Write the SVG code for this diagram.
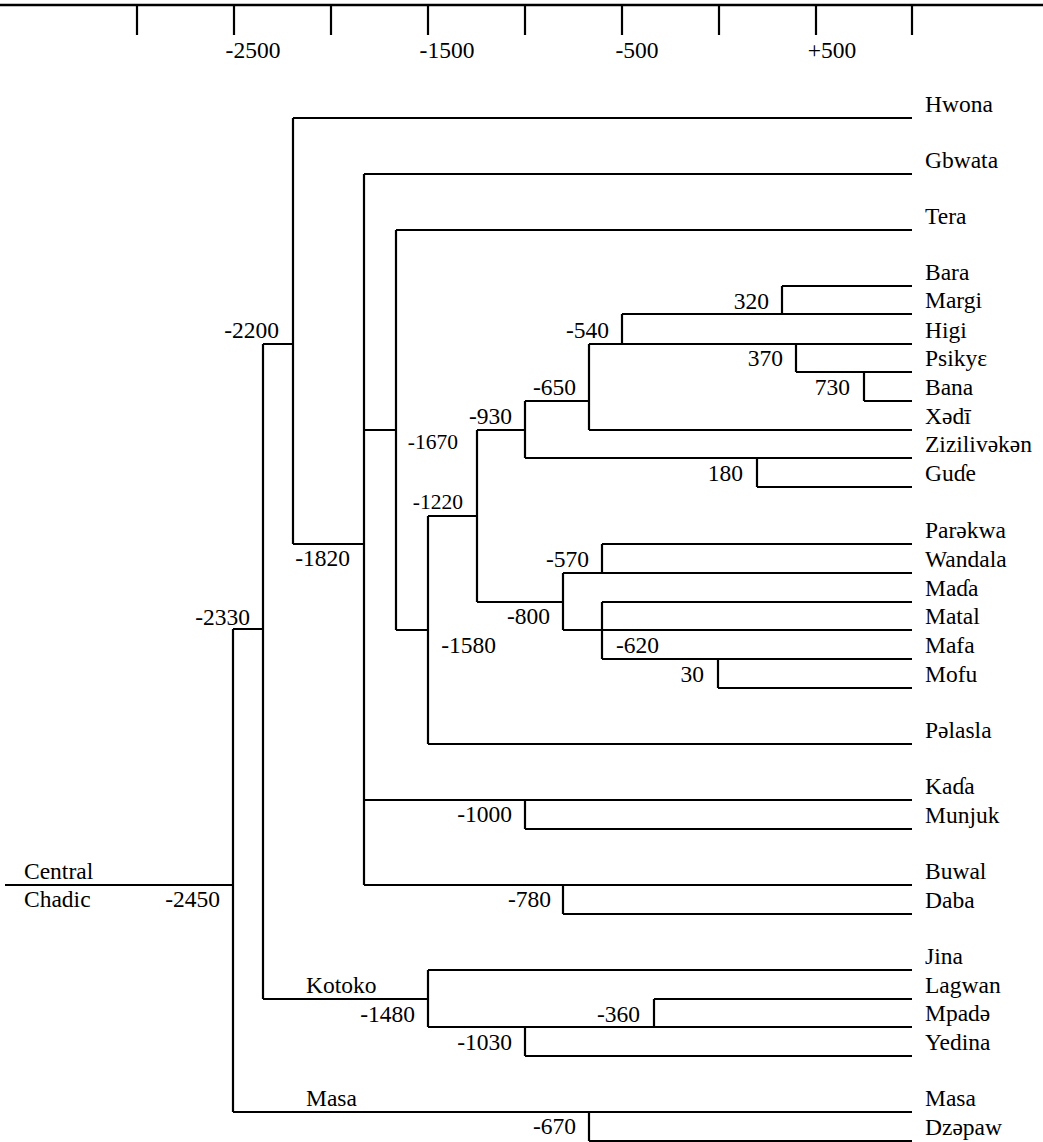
<svg xmlns="http://www.w3.org/2000/svg" width="1043" height="1142" viewBox="0 0 1043 1142">
<style>
text{font-family:"Liberation Serif",serif;font-size:23.5px;fill:#000}
.n{text-anchor:end}
.s{font-size:21.5px}
line,path{stroke:#000;stroke-width:2.2;fill:none}
.ax{stroke-width:2.6}
</style>
<rect width="1043" height="1142" fill="#fff"/>
<g id="axis">
<line class="ax" x1="0" y1="5" x2="1043" y2="5"/>
<line x1="137" y1="5" x2="137" y2="35"/>
<line x1="234" y1="5" x2="234" y2="35"/>
<line x1="331" y1="5" x2="331" y2="35"/>
<line x1="428" y1="5" x2="428" y2="35"/>
<line x1="525" y1="5" x2="525" y2="35"/>
<line x1="622" y1="5" x2="622" y2="35"/>
<line x1="719" y1="5" x2="719" y2="35"/>
<line x1="816" y1="5" x2="816" y2="35"/>
<line x1="912" y1="5" x2="912" y2="35"/>
<text x="253" y="58" text-anchor="middle">-2500</text>
<text x="447" y="58" text-anchor="middle">-1500</text>
<text x="637" y="58" text-anchor="middle">-500</text>
<text x="832" y="58" text-anchor="middle">+500</text>
</g>
<g id="connectors">
<path d="M5 885H233M233 629V1112M233 629H263M263 344V999M263 344H293M293 118V544M293 544H364M364 174V885M364 430H396M396 230V630M396 630H428M428 516V744M428 516H477M477 430V602M477 430H525M525 401V458M525 401H589M589 344V430M589 344H912M622 314V344M622 314H912M782 286V314M782 286H912M796 344V372M796 372H912M864 372V401M864 401H912M589 430H912M525 458H912M757 458V487M757 487H912M477 602H563M563 573V630M563 573H912M563 630H912M602 544V573M602 544H912M602 602V659M602 602H912M602 659H912M718 659V688M718 688H912M428 744H912"/>
<path d="M293 118H912M364 174H912M396 230H912M364 800H912M525 800V829M525 829H912M364 885H912M563 885V914M563 914H912M263 999H428M428 970V1027M428 970H912M428 1027H912M654 999V1027M654 999H912M525 1027V1056M525 1056H912M233 1112H912M589 1112V1141M589 1141H912"/>
</g>
<g id="root"><text x="24" y="879">Central</text><text x="24" y="907">Chadic</text><text class="n" x="220" y="907">-2450</text></g>
<g id="n2330"><text class="n" x="250" y="625">-2330</text></g>
<g id="n2200"><text class="n" x="279" y="338">-2200</text></g>
<g id="n1820"><text class="n" x="350" y="566">-1820</text></g>
<g id="n1670"><text class="n s" x="458" y="449">-1670</text></g>
<g id="n1580"><text class="n" x="496" y="653">-1580</text></g>
<g id="n1220"><text class="n s" x="463" y="509">-1220</text></g>
<g id="n930"><text class="n" x="512" y="424">-930</text></g>
<g id="n650"><text class="n" x="576" y="395">-650</text></g>
<g id="n540"><text class="n" x="609" y="338">-540</text></g>
<g id="n320"><text class="n" x="769" y="309">320</text></g>
<g id="n370"><text class="n" x="783" y="366">370</text></g>
<g id="n730"><text class="n" x="850" y="395">730</text></g>
<g id="n180"><text class="n" x="743" y="481">180</text></g>
<g id="n800"><text class="n" x="550" y="624">-800</text></g>
<g id="n570"><text class="n" x="589" y="567">-570</text></g>
<g id="n620"><text class="n" x="659" y="653">-620</text></g>
<g id="n30"><text class="n" x="704" y="682">30</text></g>
<g id="n1000"><text class="n" x="512" y="822">-1000</text></g>
<g id="n780"><text class="n" x="551" y="907">-780</text></g>
<g id="kotoko"><text x="306" y="993">Kotoko</text><text class="n" x="415" y="1022">-1480</text></g>
<g id="n360"><text class="n" x="640" y="1022">-360</text></g>
<g id="n1030"><text class="n" x="512" y="1050">-1030</text></g>
<g id="masa"><text x="306" y="1106">Masa</text></g>
<g id="n670"><text class="n" x="576" y="1134">-670</text></g>
<g id="leaves">
<text x="925" y="112">Hwona</text>
<text x="925" y="168">Gbwata</text>
<text x="925" y="224">Tera</text>
<text x="925" y="280">Bara</text>
<text x="925" y="308">Margi</text>
<text x="925" y="338">Higi</text>
<text x="925" y="366">Psikyɛ</text>
<text x="925" y="395">Bana</text>
<text x="925" y="424">Xədī</text>
<text x="925" y="452">Zizilivəkən</text>
<text x="925" y="481">Guɗe</text>
<text x="925" y="538">Parəkwa</text>
<text x="925" y="567">Wandala</text>
<text x="925" y="596">Maɗa</text>
<text x="925" y="624">Matal</text>
<text x="925" y="653">Mafa</text>
<text x="925" y="682">Mofu</text>
<text x="925" y="738">Pəlasla</text>
<text x="925" y="794">Kaɗa</text>
<text x="925" y="823">Munjuk</text>
<text x="925" y="879">Buwal</text>
<text x="925" y="908">Daba</text>
<text x="925" y="964">Jina</text>
<text x="925" y="993">Lagwan</text>
<text x="925" y="1021">Mpadə</text>
<text x="925" y="1050">Yedina</text>
<text x="925" y="1106">Masa</text>
<text x="925" y="1135">Dzəpaw</text>
</g>
</svg>
